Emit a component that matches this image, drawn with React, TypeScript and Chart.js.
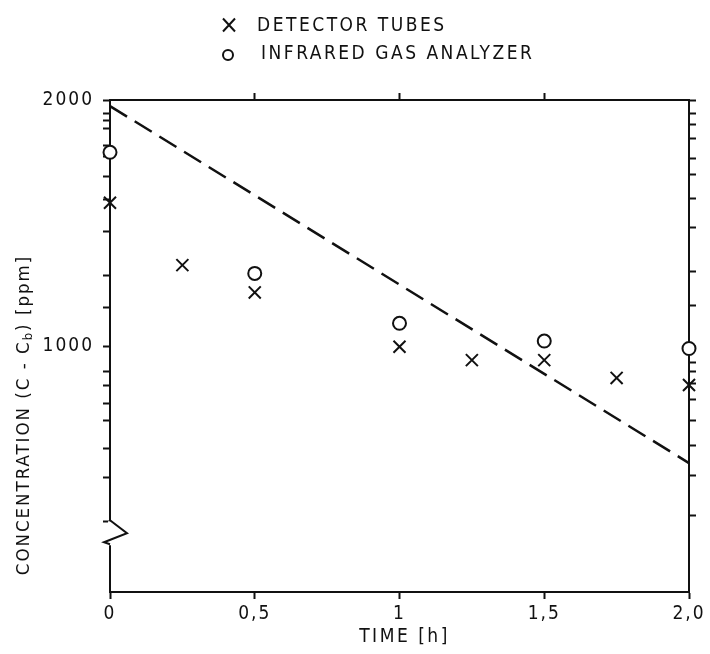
import React, { useEffect, useRef } from "react";
import { Chart, registerables } from "chart.js";

Chart.register(...registerables);

// ---- data ----
const TIME_DETECTOR = [0, 0.25, 0.5, 1.0, 1.25, 1.5, 1.75, 2.0];
const CONC_DETECTOR = [1497, 1256, 1163, 998, 961, 961, 914, 896];

const TIME_IR = [0, 0.5, 1.0, 1.5, 2.0];
const CONC_IR = [1726, 1227, 1066, 1014, 993];

const FIT_TIME = [0, 2.0];
const FIT_CONC = [1966, 719];

const X_TICKS = [0, 0.5, 1.0, 1.5, 2.0];
const X_TICK_LABELS = ["0", "0,5", "1", "1,5", "2,0"];
const X_TOP_TICKS = [0.5, 1.0, 1.5];

const Y_LABELLED = [1000, 2000];
const Y_LEFT_TICKS = [
  610, 690, 750, 810, 850, 895, 930, 1000, 1115, 1220, 1380, 1510, 1610, 1705,
  1760, 1845, 1890, 1925, 2000,
];
const Y_RIGHT_TICKS = [
  620, 695, 755, 810, 860, 900, 930, 955, 1000, 1120, 1235, 1395, 1515, 1620,
  1695, 1795, 1865, 1925, 2000,
];
const Y_MIN = 500;
const Y_MAX = 2000;
const BREAK_VALUES = [612, 590, 572]; // top, tip, bottom of axis break

const LABEL_DETECTOR = "DETECTOR TUBES";
const LABEL_IR = "INFRARED GAS ANALYZER";
const X_TITLE = "TIME [h]";
const Y_TITLE_PARTS = ["CONCENTRATION (C - C", "b", ") [ppm]"];

const FONT = "'DejaVu Sans Condensed', 'DejaVu Sans', sans-serif";
const INK = "#111";

const letterSpacingPlugin = {
  id: "letterSpacing",
  beforeDraw(chart: any) {
    (chart.ctx as any).letterSpacing = "2px";
  },
};

const decorPlugin = {
  id: "decor",
  afterDraw(chart: any) {
    const ctx: CanvasRenderingContext2D = chart.ctx;
    const area = chart.chartArea;
    const y = chart.scales.y;
    ctx.save();
    (ctx as any).letterSpacing = "2.5px";
    ctx.fillStyle = INK;
    ctx.strokeStyle = INK;

    // axis break zigzag on left axis
    const yTop = y.getPixelForValue(BREAK_VALUES[0]);
    const yTip = y.getPixelForValue(BREAK_VALUES[1]);
    const yBot = y.getPixelForValue(BREAK_VALUES[2]);
    const x0 = area.left;
    ctx.fillStyle = "#fff";
    ctx.fillRect(x0 - 2, yTop + 1, 5, yBot - yTop);
    ctx.lineWidth = 2;
    ctx.beginPath();
    ctx.moveTo(x0, yTop);
    ctx.lineTo(x0 + 17, yTip);
    ctx.lineTo(x0 - 6, yBot - 2);
    ctx.lineTo(x0, yBot);
    ctx.stroke();
    ctx.fillStyle = INK;

    // legend
    ctx.font = `19px ${FONT}`;
    ctx.textBaseline = "middle";
    ctx.textAlign = "left";
    const lx = 229;
    const ly1 = 25;
    ctx.lineWidth = 2;
    ctx.beginPath();
    ctx.moveTo(lx - 6, ly1 - 6.5);
    ctx.lineTo(lx + 6, ly1 + 6.5);
    ctx.moveTo(lx + 6, ly1 - 6.5);
    ctx.lineTo(lx - 6, ly1 + 6.5);
    ctx.stroke();
    ctx.fillText(chart.data.datasets[0].label, 257, ly1 + 1);
    const ly2 = 54;
    ctx.beginPath();
    ctx.arc(lx - 1, ly2 + 1, 5, 0, Math.PI * 2);
    ctx.stroke();
    ctx.fillText(chart.data.datasets[1].label, 261, ly2);

    // x title
    ctx.textAlign = "center";
    ctx.fillText(X_TITLE, (area.left + area.right) / 2 + 5, 637);

    // y title (rotated with subscript)
    (ctx as any).letterSpacing = "2px";
    ctx.translate(24, 415);
    ctx.rotate(-Math.PI / 2);
    ctx.textAlign = "left";
    const big = `18.5px ${FONT}`;
    const small = `13px ${FONT}`;
    ctx.font = big;
    const w0 = ctx.measureText(Y_TITLE_PARTS[0]).width;
    const w2 = ctx.measureText(Y_TITLE_PARTS[2]).width;
    ctx.font = small;
    const w1 = ctx.measureText(Y_TITLE_PARTS[1]).width;
    const total = w0 + w1 + w2;
    let cx = -total / 2;
    ctx.font = big;
    ctx.fillText(Y_TITLE_PARTS[0], cx, 0);
    cx += w0;
    ctx.font = small;
    ctx.fillText(Y_TITLE_PARTS[1], cx, 5);
    cx += w1;
    ctx.font = big;
    ctx.fillText(Y_TITLE_PARTS[2], cx, 0);
    ctx.restore();
  },
};

export default function App() {
  const ref = useRef<HTMLCanvasElement | null>(null);

  useEffect(() => {
    document.body.style.margin = "0";
    const canvas = ref.current;
    if (!canvas) return;

    const grid = {
      display: true,
      drawOnChartArea: false,
      drawTicks: true,
      tickLength: 7,
      tickWidth: 2,
      tickColor: INK,
      color: INK,
    };
    const border = { display: true, color: INK, width: 2 };
    const tickFont = { family: FONT, size: 19 };

    const chart = new Chart(canvas, {
      type: "scatter",
      data: {
        datasets: [
          {
            label: LABEL_DETECTOR,
            data: TIME_DETECTOR.map((t, i) => ({ x: t, y: CONC_DETECTOR[i] })),
            pointStyle: "crossRot",
            pointRadius: 8.5,
            pointBorderWidth: 2,
            borderColor: INK,
            backgroundColor: INK,
          },
          {
            label: LABEL_IR,
            data: TIME_IR.map((t, i) => ({ x: t, y: CONC_IR[i] })),
            pointStyle: "circle",
            pointRadius: 6.5,
            pointBorderWidth: 2,
            borderColor: INK,
            backgroundColor: "#fff",
          },
          {
            label: "fit",
            type: "line",
            data: FIT_TIME.map((t, i) => ({ x: t, y: FIT_CONC[i] })),
            showLine: true,
            borderDash: [20, 9],
            borderWidth: 2.5,
            borderColor: INK,
            pointRadius: 0,
            fill: false,
          } as any,
        ],
      },
      options: {
        animation: false,
        responsive: false,
        maintainAspectRatio: false,
        clip: false as any,
        layout: { padding: 0 },
        plugins: {
          legend: { display: false },
          tooltip: { enabled: false },
          title: { display: false },
        },
        scales: {
          x: {
            type: "linear",
            position: "bottom",
            min: 0,
            max: 2,
            grid,
            border,
            afterBuildTicks: (s: any) => {
              s.ticks = X_TICKS.map((v) => ({ value: v }));
            },
            afterFit: (s: any) => {
              s.height = 62;
            },
            ticks: {
              autoSkip: false,
              maxRotation: 0,
              padding: 4,
              color: INK,
              font: tickFont,
              callback: (v: any) => {
                const i = X_TICKS.indexOf(Number(v));
                return i >= 0 ? X_TICK_LABELS[i] : "";
              },
            },
          },
          x2: {
            type: "linear",
            position: "top",
            min: 0,
            max: 2,
            grid,
            border,
            afterBuildTicks: (s: any) => {
              s.ticks = X_TOP_TICKS.map((v) => ({ value: v }));
            },
            afterFit: (s: any) => {
              s.height = 100;
            },
            ticks: { autoSkip: false, maxRotation: 0, callback: () => "" },
          },
          y: {
            type: "logarithmic",
            position: "left",
            min: Y_MIN,
            max: Y_MAX,
            grid,
            border,
            afterBuildTicks: (s: any) => {
              s.ticks = Y_LEFT_TICKS.map((v) => ({ value: v }));
            },
            afterFit: (s: any) => {
              s.width = 110;
            },
            ticks: {
              autoSkip: false,
              padding: 9,
              color: INK,
              font: tickFont,
              callback: (v: any) =>
                Y_LABELLED.includes(Number(v)) ? String(v) : "",
            },
          },
          y2: {
            type: "logarithmic",
            position: "right",
            min: Y_MIN,
            max: Y_MAX,
            grid,
            border,
            afterBuildTicks: (s: any) => {
              s.ticks = Y_RIGHT_TICKS.map((v) => ({ value: v }));
            },
            afterFit: (s: any) => {
              s.width = 21;
            },
            ticks: { autoSkip: false, callback: () => "" },
          },
        },
      } as any,
      plugins: [letterSpacingPlugin, decorPlugin],
    });

    return () => chart.destroy();
  }, []);

  return (
    <div style={{ width: 710, height: 654, position: "relative", background: "#fff" }}>
      <canvas ref={ref} width={710} height={654} style={{ display: "block" }} />
    </div>
  );
}
